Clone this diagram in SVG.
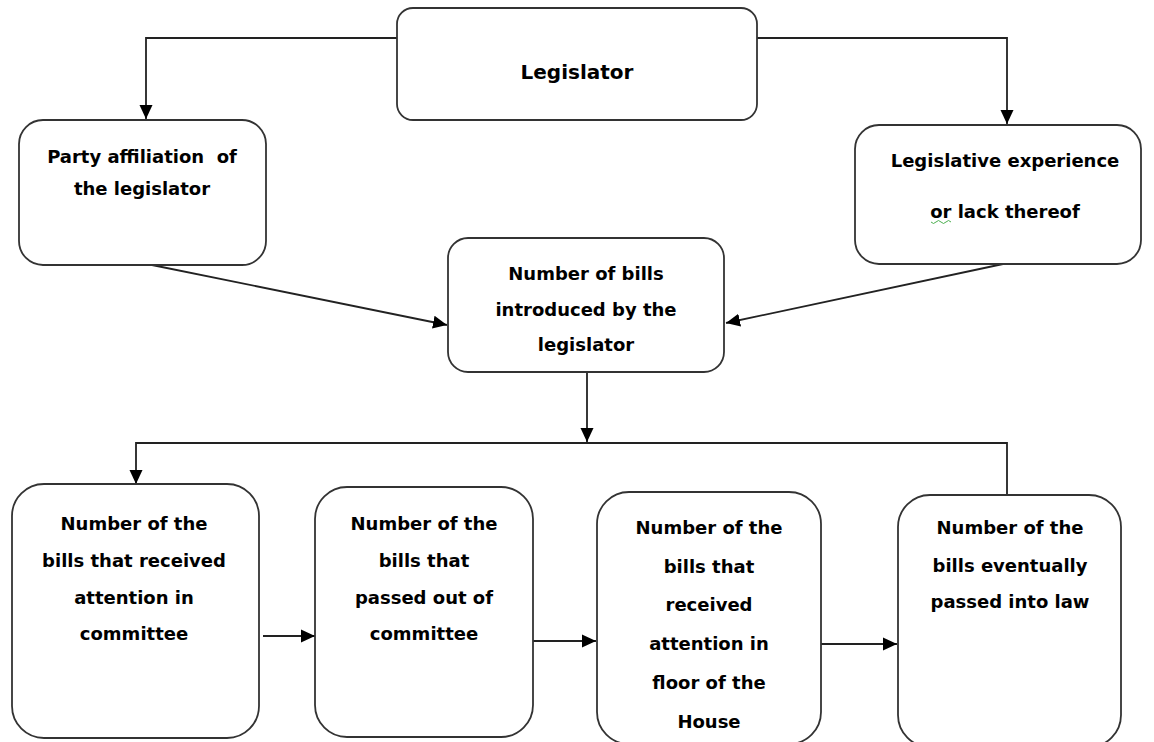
<svg xmlns="http://www.w3.org/2000/svg" width="1154" height="742" viewBox="0 0 1154 742">
<style>
.box{fill:#fff;stroke:#333;stroke-width:1.8}
.t{font-family:"DejaVu Sans",sans-serif;font-weight:bold;font-size:18px;fill:#000;text-anchor:middle;white-space:pre}
.big{font-size:20px}
.c{fill:none;stroke:#222;stroke-width:1.8}
</style>
<defs>
<marker id="ah" markerUnits="userSpaceOnUse" markerWidth="16" markerHeight="16" viewBox="0 0 16 16" refX="14" refY="8" orient="auto">
<path d="M0,1.5 L14,8 L0,14.5 Z" fill="#000"/>
</marker>
</defs>
<rect width="1154" height="742" fill="#fff"/>
<g id="connectors">
<path class="c" d="M397,38 H146 V119" marker-end="url(#ah)"/>
<path class="c" d="M757,38 H1007 V124" marker-end="url(#ah)"/>
<path class="c" d="M152,265 L447,325" marker-end="url(#ah)"/>
<path class="c" d="M1003,264 L726,323" marker-end="url(#ah)"/>
<path class="c" d="M587,372 V442" marker-end="url(#ah)"/>
<path class="c" d="M1007,495 V443 H136 V484" marker-end="url(#ah)"/>
<path class="c" d="M263,636 H315" marker-end="url(#ah)"/>
<path class="c" d="M533,641 H596" marker-end="url(#ah)"/>
<path class="c" d="M821,644 H897" marker-end="url(#ah)"/>
</g>
<g id="legislator">
<rect class="box" x="397" y="8" width="360" height="112" rx="16"/>
<text class="t big" x="577" y="79">Legislator</text>
</g>
<g id="party">
<rect class="box" x="19" y="120" width="247" height="145" rx="24"/>
<text class="t" x="142" y="163">Party affiliation  of</text>
<text class="t" x="142" y="195">the legislator</text>
</g>
<g id="experience">
<rect class="box" x="855" y="125" width="286" height="139" rx="24"/>
<text class="t" x="1005" y="167">Legislative experience</text>
<text class="t" x="1005" y="218">or lack thereof</text>
<path d="M931,222 q2.5,3 5,0 t5,0 t5,0 t5,0" fill="none" stroke="#4caf50" stroke-width="1"/>
</g>
<g id="introduced">
<rect class="box" x="448" y="238" width="276" height="134" rx="20"/>
<text class="t" x="586" y="280">Number of bills</text>
<text class="t" x="586" y="316">introduced by the</text>
<text class="t" x="586" y="351">legislator</text>
</g>
<g id="committee-attention">
<rect class="box" x="12" y="484" width="247" height="254" rx="32"/>
<text class="t" x="134" y="530">Number of the</text>
<text class="t" x="134" y="567">bills that received</text>
<text class="t" x="134" y="604">attention in</text>
<text class="t" x="134" y="640">committee</text>
</g>
<g id="passed-committee">
<rect class="box" x="315" y="487" width="218" height="250" rx="32"/>
<text class="t" x="424" y="530">Number of the</text>
<text class="t" x="424" y="567">bills that</text>
<text class="t" x="424" y="604">passed out of</text>
<text class="t" x="424" y="640">committee</text>
</g>
<g id="floor-attention">
<rect class="box" x="597" y="492" width="224" height="252" rx="32"/>
<text class="t" x="709" y="534">Number of the</text>
<text class="t" x="709" y="573">bills that</text>
<text class="t" x="709" y="611">received</text>
<text class="t" x="709" y="650">attention in</text>
<text class="t" x="709" y="689">floor of the</text>
<text class="t" x="709" y="728">House</text>
</g>
<g id="law">
<rect class="box" x="898" y="495" width="223" height="252" rx="32"/>
<text class="t" x="1010" y="534">Number of the</text>
<text class="t" x="1010" y="572">bills eventually</text>
<text class="t" x="1010" y="608">passed into law</text>
</g>
</svg>
